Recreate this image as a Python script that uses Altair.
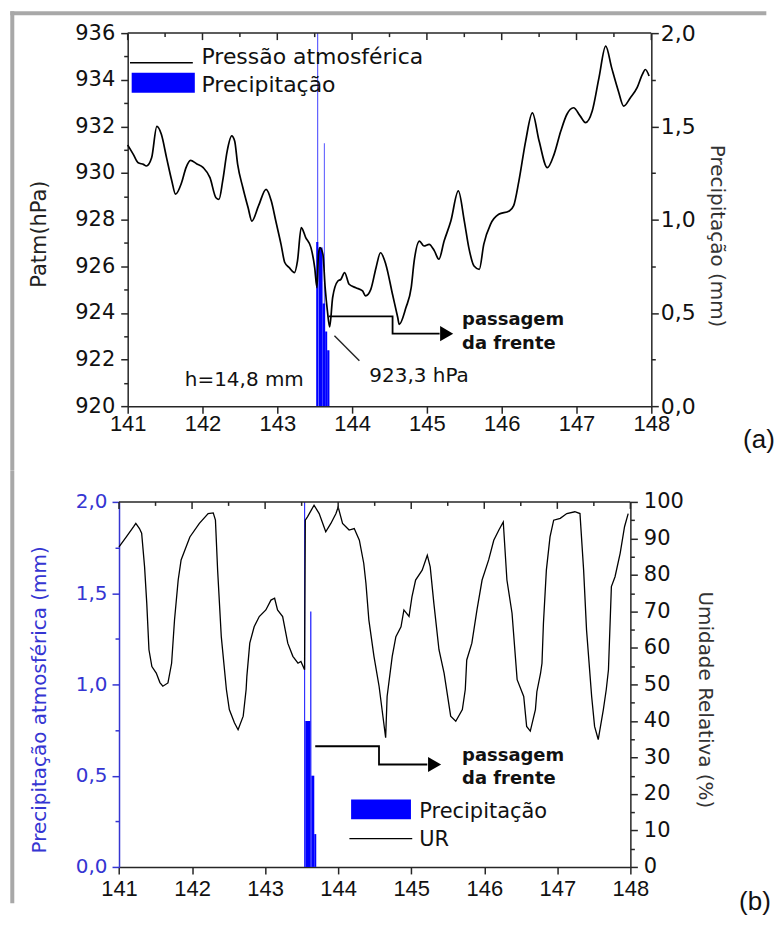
import altair as alt
import pandas as pd

# ------------------------------------------------------------------ data
# (a) atmospheric pressure, day of year vs hPa
p_day = [141.00, 141.075, 141.14, 141.21, 141.25, 141.32, 141.39, 141.45, 141.52, 141.59,
         141.64, 141.72, 141.78, 141.84, 141.92, 142.01, 142.10, 142.18, 142.22, 142.27,
         142.33, 142.39, 142.43, 142.47, 142.54, 142.61, 142.66, 142.75, 142.85, 142.92,
         142.98, 143.05, 143.10, 143.16, 143.23, 143.27, 143.32, 143.38, 143.45, 143.50,
         143.53, 143.55, 143.57, 143.61, 143.64, 143.67, 143.70, 143.74, 143.81, 143.85,
         143.90, 143.96, 144.05, 144.14, 144.18, 144.25, 144.32, 144.38, 144.45, 144.54,
         144.61, 144.63, 144.72, 144.79, 144.83, 144.90, 144.96, 145.03, 145.10, 145.16,
         145.23, 145.32, 145.42, 145.50, 145.56, 145.63, 145.70, 145.76, 145.85, 145.96,
         146.10, 146.16, 146.23, 146.32, 146.41, 146.50, 146.61, 146.70, 146.79, 146.87,
         146.96, 147.05, 147.12, 147.21, 147.30, 147.39, 147.47, 147.56, 147.63, 147.72,
         147.81, 147.88, 147.92, 147.97]
p_hpa = [931.2, 930.8, 930.44, 930.37, 930.3, 930.65, 932.0, 931.66, 930.65, 929.66,
         929.09, 929.58, 930.23, 930.54, 930.40, 930.23, 929.80, 928.94, 928.87, 929.66,
         930.94, 931.59, 931.37, 930.37, 929.37, 928.51, 927.94, 928.6, 929.30, 928.80,
         927.94, 926.94, 926.16, 925.94, 925.73, 926.23, 927.66, 927.23, 926.80, 925.94,
         925.08, 926.51, 926.80, 926.51, 925.08, 924.08, 923.4, 924.66, 925.37, 925.44,
         925.73, 925.23, 925.08, 924.94, 924.73, 925.01, 925.94, 926.58, 926.09, 924.80,
         923.80, 923.51, 924.23, 925.08, 926.23, 927.08, 926.87, 926.94, 926.66, 926.30,
         927.08, 927.94, 929.23, 927.94, 926.80, 926.01, 925.87, 926.94, 927.80, 928.23,
         928.37, 928.60, 929.66, 931.37, 932.58, 931.37, 930.23, 930.80, 931.80, 932.51,
         932.80, 932.44, 932.16, 932.66, 934.08, 935.44, 934.51, 933.51, 932.87, 933.23,
         933.66, 934.23, 934.44, 934.16]

# (b) relative humidity, day of year vs %
ur_day = [141.00, 141.10, 141.20, 141.23, 141.28, 141.31, 141.35, 141.38, 141.41, 141.45,
          141.51, 141.56, 141.60, 141.67, 141.72, 141.76, 141.81, 141.85, 141.97, 142.10,
          142.22, 142.29, 142.32, 142.35, 142.40, 142.47, 142.51, 142.58, 142.63, 142.70,
          142.74, 142.75, 142.79, 142.85, 142.92, 143.01, 143.08, 143.13, 143.17, 143.24,
          143.31, 143.38, 143.45, 143.49, 143.54, 143.55, 143.58, 143.67, 143.74, 143.83,
          143.90, 143.97, 144.00, 144.06, 144.15, 144.22, 144.29, 144.35, 144.38, 144.42,
          144.49, 144.56, 144.65, 144.67, 144.74, 144.79, 144.86, 144.90, 144.97, 145.01,
          145.06, 145.15, 145.22, 145.26, 145.31, 145.38, 145.45, 145.54, 145.61, 145.70,
          145.74, 145.76, 145.83, 145.90, 145.97, 146.06, 146.13, 146.20, 146.26, 146.31,
          146.38, 146.45, 146.54, 146.58, 146.63, 146.70, 146.72, 146.77, 146.79, 146.81,
          146.85, 146.90, 146.95, 147.04, 147.13, 147.24, 147.31, 147.36, 147.40, 147.47,
          147.51, 147.56, 147.63, 147.67, 147.70, 147.74, 147.79, 147.86, 147.92, 147.97]
ur_pct = [87.7, 90.4, 93.2, 94.1, 92.7, 91.4, 82.2, 72.2, 59.5, 54.9,
          53.1, 50.5, 49.5, 50.4, 55.8, 67.7, 78.6, 84.1, 90.4, 94.1,
          96.8, 97.0, 95.0, 81.3, 63.1, 48.6, 43.1, 39.5, 37.6, 41.3,
          48.6, 52.2, 61.3, 65.8, 68.6, 70.4, 73.1, 73.6, 70.4, 68.6,
          61.3, 57.7, 55.8, 56.3, 54.0, 95.0, 95.9, 99.1, 96.8, 91.8,
          94.1, 96.8, 98.6, 94.1, 92.3, 92.7, 89.5, 83.2, 77.7, 67.7,
          57.7, 49.5, 35.4, 46.7, 57.7, 63.1, 65.8, 70.4, 68.6, 74.0,
          78.6, 81.3, 85.4, 82.2, 72.2, 59.5, 53.1, 41.3, 39.9, 43.1,
          48.6, 56.7, 61.3, 70.4, 78.6, 84.1, 89.5, 92.3, 94.5, 78.6,
          69.5, 51.3, 46.7, 38.5, 37.2, 43.1, 48.0, 53.0, 55.8, 66.8,
          81.3, 90.4, 95.0, 95.5, 96.8, 97.3, 96.8, 81.3, 64.9, 46.7,
          38.5, 34.9, 43.1, 48.6, 54.0, 76.8, 79.5, 85.9, 93.2, 96.8]

# precipitation columns (start day, end day, mm)
a_bar_start = [143.520, 143.536, 143.553, 143.605, 143.623, 143.640, 143.667]
a_bar_end = [143.548, 143.546, 143.605, 143.640, 143.632, 143.667, 143.697]
a_bar_mm = [0.88, 2.40, 0.85, 0.55, 1.41, 0.40, 0.30]

b_bar_start = [143.535, 143.550, 143.618, 143.633, 143.673]
b_bar_end = [143.548, 143.618, 143.633, 143.673, 143.700]
b_bar_mm = [2.40, 0.80, 1.40, 0.50, 0.18]

# annotation arrows ("passagem da frente") in data coordinates
arrow_a_day = [143.688, 144.541, 144.541, 145.17]
arrow_a_hpa = [923.85, 923.85, 923.11, 923.11]
arrow_b_day = [143.686, 144.559, 144.559, 145.22]
arrow_b_pct = [33.06, 33.06, 28.06, 28.06]
pointer_day = [143.764, 144.097]
pointer_hpa = [923.02, 921.95]

# tick values
x_ticks = [141, 141.5, 142, 142.5, 143, 143.5, 144, 144.5, 145, 145.5, 146, 146.5, 147, 147.5, 148]
x_major = [141, 142, 143, 144, 145, 146, 147, 148]
x_minor = [141.5, 142.5, 143.5, 144.5, 145.5, 146.5, 147.5]
p_ticks = [920, 921, 922, 923, 924, 925, 926, 927, 928, 929, 930, 931, 932, 933, 934, 935, 936]
mm_ticks = [0, 0.25, 0.5, 0.75, 1.0, 1.25, 1.5, 1.75, 2.0]
ur_ticks = [0, 5, 10, 15, 20, 25, 30, 35, 40, 45, 50, 55, 60, 65, 70, 75, 80, 85, 90, 95, 100]

# ------------------------------------------------------------------ style
FONT = "DejaVu Sans"
XFONT = "Liberation Sans"
AX = "#262626"
BLUE = "#0000ff"
BLUE_AX = "#3535d2"
FRAME = "#a8a8a8"
WA, HA = 525, 374
SHIFT_B = 8.7           # panel (b) plot starts 8.7 px left of panel (a)
WB, HB = 504, 366       # panel (b) group width; x range runs from -SHIFT_B to WB

one = pd.DataFrame({"k": [0]})


def tsize(test):
    return {"condition": {"test": test, "value": 4}, "value": 7}


def x_axis(pad):
    return alt.Axis(values=x_ticks, format="d",
                    labelExpr="datum.value % 1 == 0 ? datum.label : ''",
                    tickSize=tsize("datum.value % 1 != 0"), labelFont=XFONT,
                    labelFontSize=22, labelPadding=pad, labelColor="#111",
                    labelFlush=False, labelOverlap=False, domainColor=AX, tickColor=AX,
                    domainWidth=1.5, tickWidth=1.5, grid=False, title=None)


comma_expr = "replace(format(datum.value, '.1f'), '.', ',')"


def txt(s, x, y, size, weight="normal", font=FONT, color="#111", baseline="alphabetic"):
    return alt.Chart(one).mark_text(text=s, align="left", baseline=baseline, font=font,
                                    fontSize=size, fontWeight=weight, color=color).encode(
        x=alt.value(x), y=alt.value(y))


def prule(x, x2, y, color="black", width=1.5):
    return alt.Chart(one).mark_rule(color=color, strokeWidth=width).encode(
        x=alt.value(x), x2=alt.value(x2), y=alt.value(y))


def prect(x, x2, y, y2, color):
    return alt.Chart(one).mark_rect(color=color).encode(
        x=alt.value(x), x2=alt.value(x2), y=alt.value(y), y2=alt.value(y2))


def top_ticks(vals, length, xsc, xa):
    return alt.Chart(pd.DataFrame({"t": vals})).mark_rule(color=AX, strokeWidth=1.5).encode(
        x=alt.X("t:Q", scale=xsc, axis=xa), y=alt.value(0), y2=alt.value(length))


# ------------------------------------------------------------------ panel (a)
xs_a = alt.Scale(domain=[141, 148], nice=False, zero=False)
xa_a = x_axis(0)
p_scale = alt.Scale(domain=[920, 936], nice=False, zero=False)
mm_scale_a = alt.Scale(domain=[0, 2], nice=False, zero=True)

bars_a = alt.Chart(pd.DataFrame({"s": a_bar_start, "e": a_bar_end, "v": a_bar_mm,
                                 "z": [0] * len(a_bar_mm)})).mark_rect(
    color=BLUE, clip=True).encode(
    x=alt.X("s:Q", scale=xs_a, axis=xa_a), x2="e:Q",
    y=alt.Y("v:Q", scale=mm_scale_a, axis=alt.Axis(
        orient="right", values=mm_ticks, labelExpr="datum.value % 0.5 == 0 ? " + comma_expr + " : ''",
        tickSize=tsize("datum.value % 0.5 != 0"), labelFont=FONT, labelFontSize=22,
        labelPadding=2, labelColor="#111", labelOverlap=False, labelFlush=False,
        domainColor=AX, tickColor=AX, domainWidth=1.5, tickWidth=1.5, grid=False,
        title="Precipitação (mm)", titleFont=FONT, titleFontSize=20, titleFontWeight="normal",
        titleColor="#333", titlePadding=11, titleY=203)),
    y2="z:Q")

press = alt.Chart(pd.DataFrame({"d": p_day, "p": p_hpa})).mark_line(
    color="black", strokeWidth=1.7, interpolate="monotone").encode(
    x=alt.X("d:Q", scale=xs_a, axis=xa_a),
    y=alt.Y("p:Q", scale=p_scale, axis=alt.Axis(
        orient="left", values=p_ticks, format="d",
        labelExpr="datum.value % 2 == 0 ? datum.label : ''",
        tickSize=tsize("datum.value % 2 != 0"), labelFont=FONT, labelFontSize=21,
        labelPadding=6, labelColor="#111", labelOverlap=False, labelFlush=False,
        domainColor=AX, tickColor=AX, domainWidth=1.5, tickWidth=1.5, grid=False,
        title="Patm(hPa)", titleFont=FONT, titleFontSize=21, titleFontWeight="normal",
        titleColor="#222", titlePadding=25, titleY=201)))

arrow_a = alt.Chart(pd.DataFrame({"d": arrow_a_day, "p": arrow_a_hpa,
                                  "o": list(range(len(arrow_a_day)))})).mark_line(
    color="black", strokeWidth=1.8).encode(
    x=alt.X("d:Q", scale=xs_a, axis=xa_a), y=alt.Y("p:Q", scale=p_scale, axis=None), order="o:Q")
head_a = alt.Chart(pd.DataFrame({"d": [145.264], "p": [923.11]})).mark_point(
    shape="triangle-right", filled=True, color="black", size=230, opacity=1).encode(
    x=alt.X("d:Q", scale=xs_a, axis=xa_a), y=alt.Y("p:Q", scale=p_scale, axis=None))
pointer = alt.Chart(pd.DataFrame({"d": pointer_day, "p": pointer_hpa})).mark_line(
    color="#222", strokeWidth=1.4).encode(
    x=alt.X("d:Q", scale=xs_a, axis=xa_a), y=alt.Y("p:Q", scale=p_scale, axis=None))

panel_a = alt.layer(
    bars_a, press, arrow_a, head_a, pointer,
    top_ticks(x_major, 7, xs_a, xa_a), top_ticks(x_minor, 4, xs_a, xa_a),
    prule(0, WA, 0, color=AX, width=1.5),            # top border
    # legend
    prule(2.3, 65.3, 29.7, color="black", width=1.7),
    prect(4, 67.3, 39.7, 59.7, BLUE),
    txt("Pressão atmosférica", 74, 31.3, 22),
    txt("Precipitação", 74, 58.7, 22),
    # annotations
    txt("h=14,8 mm", 57.3, 354, 20),
    txt("923,3 hPa", 242.3, 349.7, 20),
    txt("passagem", 335.3, 293, 18, weight="bold"),
    txt("da frente", 335.3, 316.3, 18, weight="bold"),
    txt("(a)", 617, 408, 26, font=XFONT, baseline="middle"),
    # outer grey frame
    prect(-117.7, 640.3, -22, -18, FRAME),
    prect(-117.7, -113.7, -22, 438, FRAME),
).properties(width=WA, height=HA).resolve_scale(y="independent")

# ------------------------------------------------------------------ panel (b)
xs_b = alt.Scale(domain=[141, 148], range=[-SHIFT_B, WB], nice=False, zero=False)
xa_b = x_axis(5)
mm_scale_b = alt.Scale(domain=[0, 2], nice=False, zero=True)
ur_scale = alt.Scale(domain=[0, 100], nice=False, zero=True)

bars_b = alt.Chart(pd.DataFrame({"s": b_bar_start, "e": b_bar_end, "v": b_bar_mm,
                                 "z": [0] * len(b_bar_mm)})).mark_rect(
    color=BLUE, clip=True).encode(
    x=alt.X("s:Q", scale=xs_b, axis=xa_b), x2="e:Q",
    y=alt.Y("v:Q", scale=mm_scale_b, axis=alt.Axis(
        orient="left", offset=SHIFT_B, values=mm_ticks,
        labelExpr="datum.value % 0.5 == 0 ? " + comma_expr + " : ''",
        tickSize=tsize("datum.value % 0.5 != 0"), labelFont=FONT, labelFontSize=20,
        labelPadding=5, labelColor=BLUE_AX, labelOverlap=False, labelFlush=False,
        domainColor=BLUE_AX, tickColor=BLUE_AX, domainWidth=1.5, tickWidth=1.5, grid=False,
        title="Precipitação atmosférica (mm)", titleFont=FONT, titleFontSize=20,
        titleFontWeight="normal", titleColor=BLUE_AX, titlePadding=26, titleY=198)),
    y2="z:Q")

ur = alt.Chart(pd.DataFrame({"d": ur_day, "u": ur_pct})).mark_line(
    color="black", strokeWidth=1.3).encode(
    x=alt.X("d:Q", scale=xs_b, axis=xa_b),
    y=alt.Y("u:Q", scale=ur_scale, axis=alt.Axis(
        orient="right", values=ur_ticks, format="d",
        labelExpr="datum.value % 10 == 0 ? datum.label : ''",
        tickSize=tsize("datum.value % 10 != 0"), labelFont=FONT, labelFontSize=21,
        labelPadding=6, labelColor="#111", labelOverlap=False, labelFlush=False,
        domainColor=AX, tickColor=AX, domainWidth=1.5, tickWidth=1.5, grid=False,
        title="Umidade Relativa (%)", titleFont=FONT, titleFontSize=20, titleFontWeight="normal",
        titleColor="#333", titlePadding=11, titleY=198)))

arrow_b = alt.Chart(pd.DataFrame({"d": arrow_b_day, "u": arrow_b_pct,
                                  "o": list(range(len(arrow_b_day)))})).mark_line(
    color="black", strokeWidth=1.8).encode(
    x=alt.X("d:Q", scale=xs_b, axis=xa_b), y=alt.Y("u:Q", scale=ur_scale, axis=None), order="o:Q")
head_b = alt.Chart(pd.DataFrame({"d": [145.32], "u": [28.06]})).mark_point(
    shape="triangle-right", filled=True, color="black", size=230, opacity=1).encode(
    x=alt.X("d:Q", scale=xs_b, axis=xa_b), y=alt.Y("u:Q", scale=ur_scale, axis=None))

panel_b = alt.layer(
    bars_b, ur, arrow_b, head_b,
    top_ticks(x_major, 7, xs_b, xa_b), top_ticks(x_minor, 4, xs_b, xa_b),
    prule(-SHIFT_B, WB, 0, color=AX, width=1.5),     # top border
    # legend
    prect(224, 284, 298.3, 318.3, BLUE),
    txt("Precipitação", 292.3, 316.6, 21),
    prule(222.3, 285.3, 337.6, color="black", width=1.3),
    txt("UR", 292.3, 345, 21),
    # annotations
    txt("passagem", 335.3, 260, 18, weight="bold"),
    txt("da frente", 335.3, 283.3, 18, weight="bold"),
    txt("(b)", 613, 401.3, 26, font=XFONT, baseline="middle"),
    # outer grey frame
    prect(-117.7, -113.7, -31.7, 402.3, FRAME),
).properties(width=WB, height=HB).resolve_scale(y="independent")

chart = alt.vconcat(panel_a, panel_b, spacing=0).properties(
    padding={"left": 2, "top": 2, "right": 0, "bottom": 0}
).configure_view(stroke="transparent", strokeWidth=0)

chart.save("out.html", embed_options={"renderer": "svg", "actions": False})
